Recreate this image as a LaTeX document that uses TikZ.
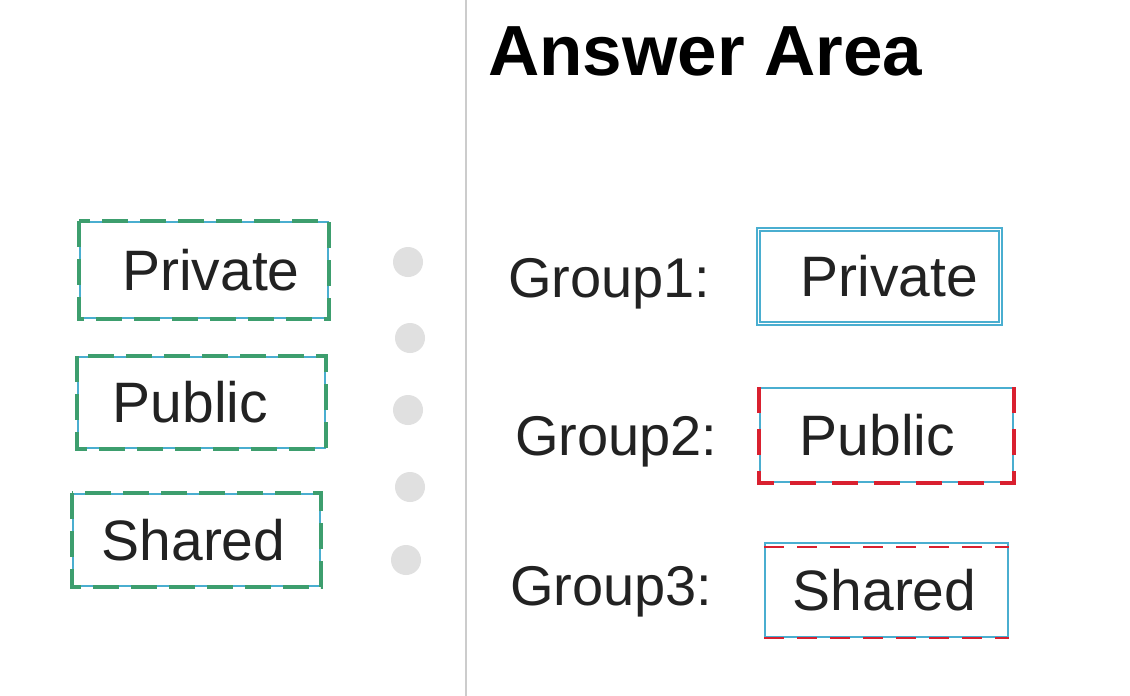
\documentclass[tikz,border=0pt]{standalone}
\usepackage{fontspec}
\setmainfont{Liberation Sans}
\definecolor{boxblue}{HTML}{4AAED0}
\definecolor{boxgreen}{HTML}{3D9E6E}
\definecolor{boxred}{HTML}{D9202F}
\definecolor{txt}{HTML}{222222}
\definecolor{dotgray}{HTML}{E0E0E0}
\begin{document}
\begin{tikzpicture}[x=1pt,y=-1pt,
  lbl/.style={font=\fontsize{57}{60}\selectfont, text=txt, inner sep=0pt},
  grp/.style={font=\fontsize{56}{60}\selectfont, text=txt, inner sep=0pt, anchor=base west},
  tile/.style={draw=boxblue, line width=1.6pt, inner sep=0pt},
  greendash/.style={draw=boxgreen, line width=4.5pt, dash pattern=on 26pt off 12pt},
  reddash/.style={draw=boxred, line width=4pt, dash pattern=on 26pt off 16pt},
  reddashthin/.style={draw=boxred, line width=2.2pt, dash pattern=on 20pt off 13pt},
  fdot/.style={circle, fill=dotgray, inner sep=0pt, minimum size=30pt}
]
\useasboundingbox (0,0) rectangle (1130,696);
\fill[white] (0,0) rectangle (1130,696);
% divider
\coordinate (dtop) at (466,0);
\coordinate (dbot) at (466,696);
\draw[color=black!20, line width=2pt] (dtop) -- (dbot);
% faint dots
\node[fdot] (d1) at (408,262) {};
\node[fdot] (d2) at (410,338) {};
\node[fdot] (d3) at (408,410) {};
\node[fdot] (d4) at (410,487) {};
\node[fdot] (d5) at (406,560) {};
% title
\node[font=\bfseries\fontsize{71}{75}\selectfont, text=black, inner sep=0pt, anchor=base west] (title) at (488,75) {Answer Area};
% left tiles
\node[tile, minimum width=248pt, minimum height=96pt] (l1) at (204,270) {};
\draw[greendash] (l1.north west) rectangle (l1.south east);
\node[lbl] (l1t) at ([xshift=7pt]l1.center) {Private};
\node[tile, minimum width=247pt, minimum height=91pt] (l2) at (201.5,402.5) {};
\draw[greendash] (l2.north west) rectangle (l2.south east);
\node[lbl] (l2t) at ([xshift=-11pt]l2.center) {Public};
\node[tile, minimum width=247pt, minimum height=92pt] (l3) at (196.5,540) {};
\draw[greendash] (l3.north west) rectangle (l3.south east);
\node[lbl] (l3t) at ([xshift=-3pt]l3.center) {Shared};
% group labels
\node[grp] (g1) at (508,297) {Group1:};
\node[grp] (g2) at (515,455) {Group2:};
\node[grp] (g3) at (510,605) {Group3:};
% right tiles
\node[tile, minimum width=245pt, minimum height=97pt] (r1) at (879.5,276.5) {};
\draw[draw=boxblue, line width=1.6pt] ([shift={(4pt,-4pt)}]r1.north west) rectangle ([shift={(-4pt,4pt)}]r1.south east);
\node[lbl] (r1t) at ([xshift=10pt]r1.center) {Private};
\node[tile, minimum width=253pt, minimum height=94pt] (r2) at (886.5,435) {};
\draw[reddash] (r2.north west) -- (r2.south west) -- (r2.south east) -- (r2.north east);
\node[lbl] (r2t) at ([xshift=-9pt]r2.center) {Public};
\node[tile, minimum width=243pt, minimum height=94pt] (r3) at (886.5,590) {};
\draw[reddashthin] ([yshift=-5pt]r3.north west) -- ([yshift=-5pt]r3.north east);
\draw[reddashthin] (r3.south west) -- (r3.south east);
\node[lbl] (r3t) at ([xshift=-2pt]r3.center) {Shared};
\end{tikzpicture}
\end{document}
